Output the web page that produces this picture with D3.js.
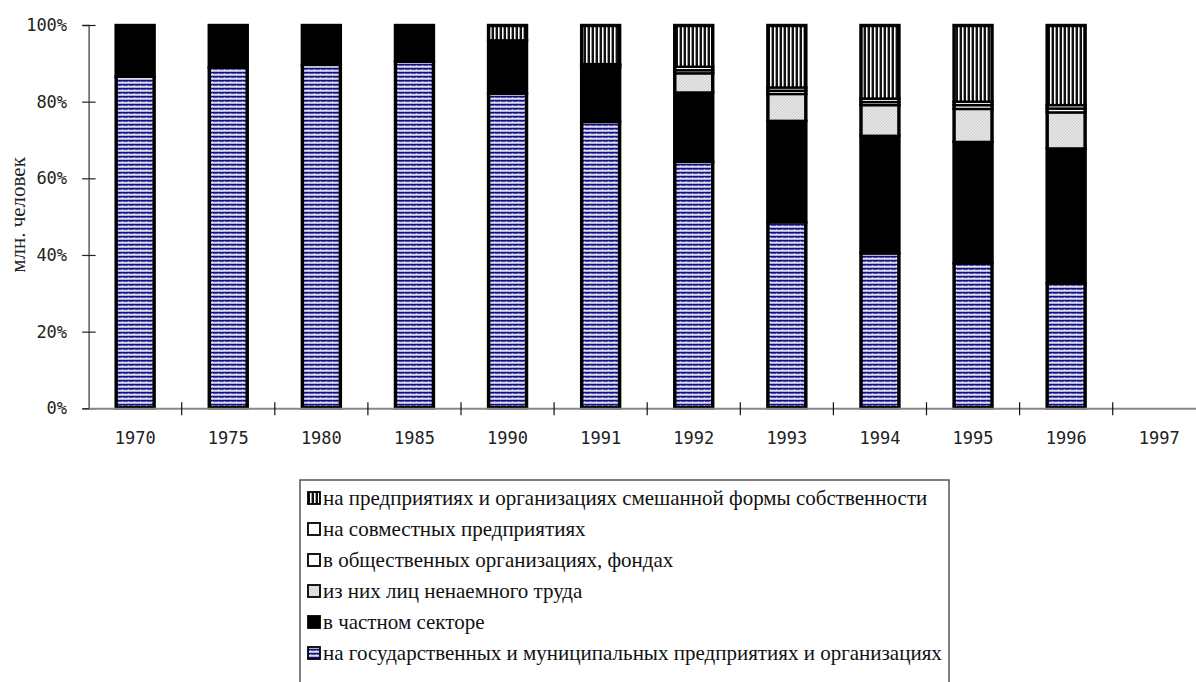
<!DOCTYPE html>
<meta charset="utf-8">
<script src="https://cdn.jsdelivr.net/npm/d3@7"></script>
<style>
  body { margin: 0; background: #fff; }
  .tick text { font-family: "DejaVu Sans Mono", monospace; font-size: 17px; fill: #222; }
</style>
<svg id="graph" width="1196" height="682"></svg>
<script>

// data (shares in %)
var years = ["1970", "1975", "1980", "1985", "1990", "1991", "1992", "1993", "1994", "1995", "1996", "1997"];
var stateOrg      = [86.5, 88.9, 89.6, 90.4, 82.1, 74.7, 64.3, 48.5, 40.4, 37.8, 32.6, 0];
var privateSector = [13.5, 11.1, 10.4,  9.6, 13.9, 14.2, 18.1, 26.5, 30.7, 31.7, 35.2, 0];
var selfEmployed  = [0, 0, 0, 0, 0, 0,   5.0,  7.0,  8.0,  8.6,  9.4, 0];
var publicOrgs    = [0, 0, 0, 0, 0, 0.6, 0.8,  0.85, 0.8,  1.0,  1.0, 0];
var jointVentures = [0, 0, 0, 0, 0, 0.3, 0.9,  0.85, 0.9,  0.9,  0.9, 0];
var mixedOwner    = [0, 0, 0, 0, 4.0, 10.2, 10.9, 16.3, 19.2, 20.0, 20.9, 0];
var yTicks = [0, 20, 40, 60, 80, 100];

var seriesNames = {
  stateOrg: "на государственных и муниципальных предприятиях и организациях",
  privateSector: "в частном секторе",
  selfEmployed: "из них лиц ненаемного труда",
  publicOrgs: "в общественных организациях, фондах",
  jointVentures: "на совместных предприятиях",
  mixedOwner: "на предприятиях и организациях смешанной формы собственности"
};
var keys = ["stateOrg", "privateSector", "selfEmployed", "publicOrgs", "jointVentures", "mixedOwner"];
var fills = {
  stateOrg: "url(#pState)", privateSector: "#000", selfEmployed: "url(#pSelf)",
  publicOrgs: "#fff", jointVentures: "#fff", mixedOwner: "url(#pMixed)"
};

var table = years.map(function(yr, i) {
  return {
    year: yr, stateOrg: stateOrg[i], privateSector: privateSector[i], selfEmployed: selfEmployed[i],
    publicOrgs: publicOrgs[i], jointVentures: jointVentures[i], mixedOwner: mixedOwner[i]
  };
});

var svg = d3.select("#graph");
var plotLeft = 88.6, plotTop = 25, plotBottom = 408.3, bandW = 93.1;

// patterns
var defs = svg.append("defs");
var p1 = defs.append("pattern").attr("id", "pState").attr("patternUnits", "userSpaceOnUse")
    .attr("width", 6).attr("height", 4);
p1.append("rect").attr("width", 6).attr("height", 4).attr("fill", "#8c8cc8");
p1.append("rect").attr("y", 0).attr("width", 6).attr("height", 1.5).attr("fill", "#12127e");
p1.append("rect").attr("y", 2.3).attr("width", 6).attr("height", 1).attr("fill", "#fff");
p1.append("rect").attr("x", 2).attr("y", 1.5).attr("width", 1).attr("height", 0.8).attr("fill", "#fff");

var p2 = defs.append("pattern").attr("id", "pMixed").attr("patternUnits", "userSpaceOnUse")
    .attr("width", 4).attr("height", 4);
p2.append("rect").attr("width", 4).attr("height", 4).attr("fill", "#fff");
p2.append("rect").attr("x", 0).attr("width", 2).attr("height", 4).attr("fill", "#111");
p2.append("rect").attr("x", 3).attr("width", 1).attr("height", 4).attr("fill", "#999");

var p3 = defs.append("pattern").attr("id", "pSelf").attr("patternUnits", "userSpaceOnUse")
    .attr("width", 3).attr("height", 3);
p3.append("rect").attr("width", 3).attr("height", 3).attr("fill", "#e6e6e6");
p3.append("path").attr("d", "M0,3 L3,0").attr("stroke", "#c4c4c4").attr("stroke-width", 0.7);

// scales
var x = d3.scaleBand().domain(years).range([plotLeft, plotLeft + bandW * years.length]).padding(0);
var y = d3.scaleLinear().domain([0, 100]).range([plotBottom, plotTop]);
var barW = 39;

var stack = d3.stack().keys(keys);
var layers = stack(table);

// bars
var g = svg.append("g");
layers.forEach(function(layer) {
  g.selectAll(null)
    .data(layer.filter(function(d) { return d[1] - d[0] > 0; }))
    .enter().append("rect")
      .attr("x", function(d) { return x(d.data.year) + x.bandwidth() / 2 - barW / 2; })
      .attr("y", function(d) { return y(d[1]); })
      .attr("width", barW)
      .attr("height", function(d) { return y(d[0]) - y(d[1]); })
      .attr("fill", fills[layer.key])
      .attr("stroke", "#000")
      .attr("stroke-width", 2.4);
});
// outer frame of each bar
g.selectAll(".frame")
  .data(table.filter(function(d) { return d.stateOrg > 0; }))
  .enter().append("rect")
    .attr("class", "frame")
    .attr("x", function(d) { return x(d.year) + x.bandwidth() / 2 - barW / 2 + 1; })
    .attr("y", y(100) + 1)
    .attr("width", barW - 2)
    .attr("height", y(0) - y(100) - 2)
    .attr("fill", "none")
    .attr("stroke", "#000")
    .attr("stroke-width", 2.5);

// y axis
var yAxis = svg.append("g")
    .attr("transform", "translate(" + plotLeft + ",0)")
    .call(d3.axisLeft(y).tickValues(yTicks).tickSize(6).tickPadding(15.5)
      .tickFormat(function(d) { return d + "%"; }));
yAxis.select(".domain").attr("stroke", "#444").attr("stroke-width", 1.3);
yAxis.selectAll(".tick line").attr("x2", -6.5).attr("x1", 7).attr("stroke", "#222").attr("stroke-width", 1.2);

// x axis
var xAxis = svg.append("g")
    .attr("transform", "translate(0," + plotBottom + ")")
    .call(d3.axisBottom(x).tickSize(0).tickSizeOuter(0));
xAxis.select(".domain").attr("stroke", "#888").attr("stroke-width", 2);
xAxis.selectAll(".tick text").attr("y", 36).attr("dy", "0");
xAxis.selectAll(".bound")
  .data(years.slice(1))
  .enter().append("line")
    .attr("class", "bound")
    .attr("x1", function(d) { return x(d); })
    .attr("x2", function(d) { return x(d); })
    .attr("y1", -6).attr("y2", 7)
    .attr("stroke", "#111").attr("stroke-width", 1.2);

// y axis title
svg.append("text")
    .attr("transform", "translate(25,215) rotate(-90)")
    .attr("text-anchor", "middle")
    .style("font-family", "'Liberation Serif', serif")
    .style("font-size", "21px")
    .style("fill", "#222")
    .text("млн. человек");

// legend
var legendKeys = keys.slice().reverse();
var leg = svg.append("g");
leg.append("rect")
    .attr("x", 300).attr("y", 480).attr("width", 649).attr("height", 230)
    .attr("fill", "#fff").attr("stroke", "#555").attr("stroke-width", 1.5);
var item = leg.selectAll(".item")
  .data(legendKeys)
  .enter().append("g")
    .attr("class", "item")
    .attr("transform", function(d, i) { return "translate(308," + (498 + i * 31) + ")"; });
item.append("rect")
    .attr("x", 0).attr("y", -6).attr("width", 12).attr("height", 12)
    .attr("fill", function(d) { return fills[d]; })
    .attr("stroke", "#000").attr("stroke-width", 1.8);
item.append("text")
    .attr("x", 15).attr("y", 6.5)
    .style("font-family", "'Liberation Serif', serif")
    .style("font-size", "21px")
    .style("fill", "#111")
    .text(function(d) { return seriesNames[d]; });

</script>
